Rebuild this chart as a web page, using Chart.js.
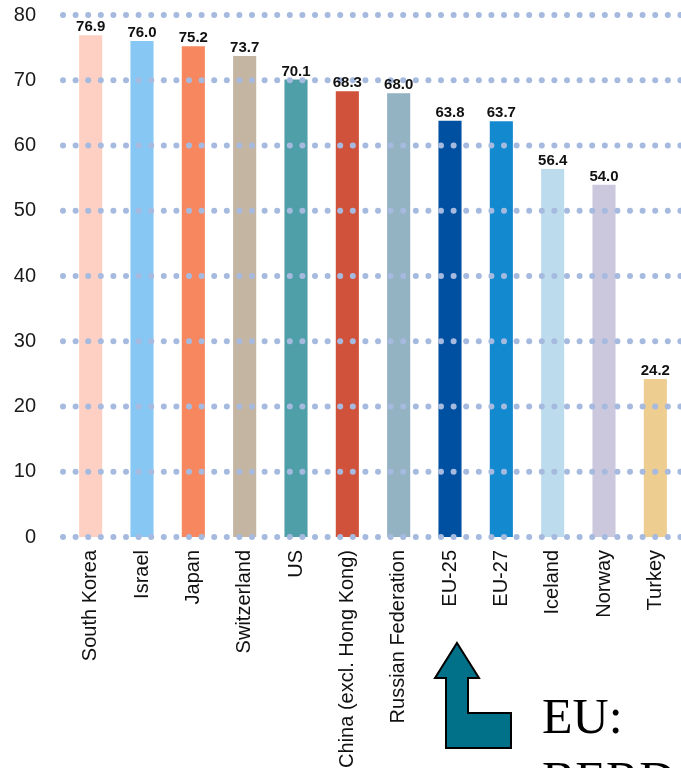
<!DOCTYPE html>
<html>
<head>
<meta charset="utf-8">
<script src="https://cdn.jsdelivr.net/npm/chart.js@4/dist/chart.umd.min.js"></script>
<style>
  html, body { margin: 0; padding: 0; background: #fff; }
  #wrap { width: 681px; height: 768px; position: relative; }
</style>
</head>
<body>
<div id="wrap"><canvas id="rd-chart"></canvas></div>
<script>
const countries = ['South Korea', 'Israel', 'Japan', 'Switzerland', 'US', 'China (excl. Hong Kong)',
    'Russian Federation', 'EU-25', 'EU-27', 'Iceland', 'Norway', 'Turkey'];
const shares = [76.9, 76.0, 75.2, 73.7, 70.1, 68.3, 68.0, 63.8, 63.7, 56.4, 54.0, 24.2];
const barColors = ['#fdd0c3', '#86c8f3', '#f7875f', '#c4b4a2', '#4f9fa8', '#d1523a',
    '#93b2c2', '#0050a1', '#1389cf', '#bcdcee', '#cbc8de', '#eecd91'];
const yTicks = [0, 10, 20, 30, 40, 50, 60, 70, 80];
const note = ['EU:', 'BERD'];

// dotted grid drawn on top of the bars
const dottedGrid = {
    id: 'dottedGrid',
    afterDatasetsDraw(chart) {
        const { ctx, chartArea, scales } = chart;
        ctx.save();
        ctx.fillStyle = '#a6badf';
        yTicks.forEach(v => {
            const y = scales.y.getPixelForValue(v);
            for (let x = chartArea.left - 2; x < chartArea.right + 6; x += 12.6) {
                ctx.beginPath();
                ctx.arc(x, y, 3, 0, Math.PI * 2);
                ctx.fill();
            }
        });
        ctx.restore();
    }
};

const barValues = {
    id: 'barValues',
    afterDatasetsDraw(chart) {
        const { ctx } = chart;
        const meta = chart.getDatasetMeta(0);
        ctx.save();
        ctx.font = 'bold 15px "Liberation Sans", Arial, sans-serif';
        ctx.fillStyle = '#111';
        ctx.textAlign = 'center';
        ctx.textBaseline = 'alphabetic';
        meta.data.forEach((bar, i) => {
            ctx.fillText(shares[i].toFixed(1), bar.x, bar.y - 4);
        });
        ctx.restore();
    }
};

// arrow pointing at EU-25 and the note next to it
const euNote = {
    id: 'euNote',
    afterDraw(chart) {
        const { ctx, chartArea, scales } = chart;
        const cx = scales.x.getPixelForValue(countries.indexOf('EU-25')) + 7;
        const top = chartArea.bottom + 106;
        ctx.save();
        ctx.beginPath();
        ctx.moveTo(cx, top);
        ctx.lineTo(cx + 22, top + 35);
        ctx.lineTo(cx + 11, top + 35);
        ctx.lineTo(cx + 11, top + 70);
        ctx.lineTo(cx + 54, top + 70);
        ctx.lineTo(cx + 54, top + 105);
        ctx.lineTo(cx - 11, top + 105);
        ctx.lineTo(cx - 11, top + 35);
        ctx.lineTo(cx - 22, top + 35);
        ctx.closePath();
        ctx.fillStyle = '#007189';
        ctx.fill();
        ctx.lineWidth = 2;
        ctx.strokeStyle = '#000';
        ctx.stroke();

        ctx.font = '50px "Liberation Serif", "Times New Roman", serif';
        ctx.fillStyle = '#000';
        ctx.textAlign = 'left';
        ctx.fillText(note[0], cx + 85, top + 90);
        ctx.fillText(note[1], cx + 85, top + 153);
        ctx.restore();
    }
};

const ctx = document.getElementById('rd-chart').getContext('2d');

new Chart(ctx, {
    type: 'bar',
    data: {
        labels: countries,
        datasets: [{
            data: shares,
            backgroundColor: barColors,
            borderWidth: 0,
            barPercentage: 0.45,
            categoryPercentage: 1
        }]
    },
    options: {
        responsive: true,
        maintainAspectRatio: false,
        animation: false,
        layout: { padding: { top: 15, right: 0, bottom: 0, left: 0 } },
        plugins: {
            legend: { display: false },
            tooltip: { enabled: false }
        },
        scales: {
            x: {
                grid: { display: false, drawTicks: false },
                border: { display: false },
                ticks: {
                    autoSkip: false,
                    minRotation: 90,
                    maxRotation: 90,
                    padding: 13,
                    color: '#111',
                    font: { family: '"Liberation Sans", Arial, sans-serif', size: 20 }
                },
                afterFit(axis) {
                    axis.height = 231;
                    axis.paddingLeft = 0;
                    axis.paddingRight = 0;
                }
            },
            y: {
                min: 0,
                max: 80,
                grid: { display: false, drawTicks: false },
                border: { display: false },
                ticks: {
                    stepSize: 10,
                    padding: 29,
                    color: '#1a1a1a',
                    font: { family: '"Liberation Sans", Arial, sans-serif', size: 20 }
                },
                afterFit(axis) {
                    axis.width = 65;
                    axis.paddingTop = 12;
                    axis.paddingBottom = 12;
                }
            }
        }
    },
    plugins: [dottedGrid, barValues, euNote]
});
</script>
</body>
</html>
